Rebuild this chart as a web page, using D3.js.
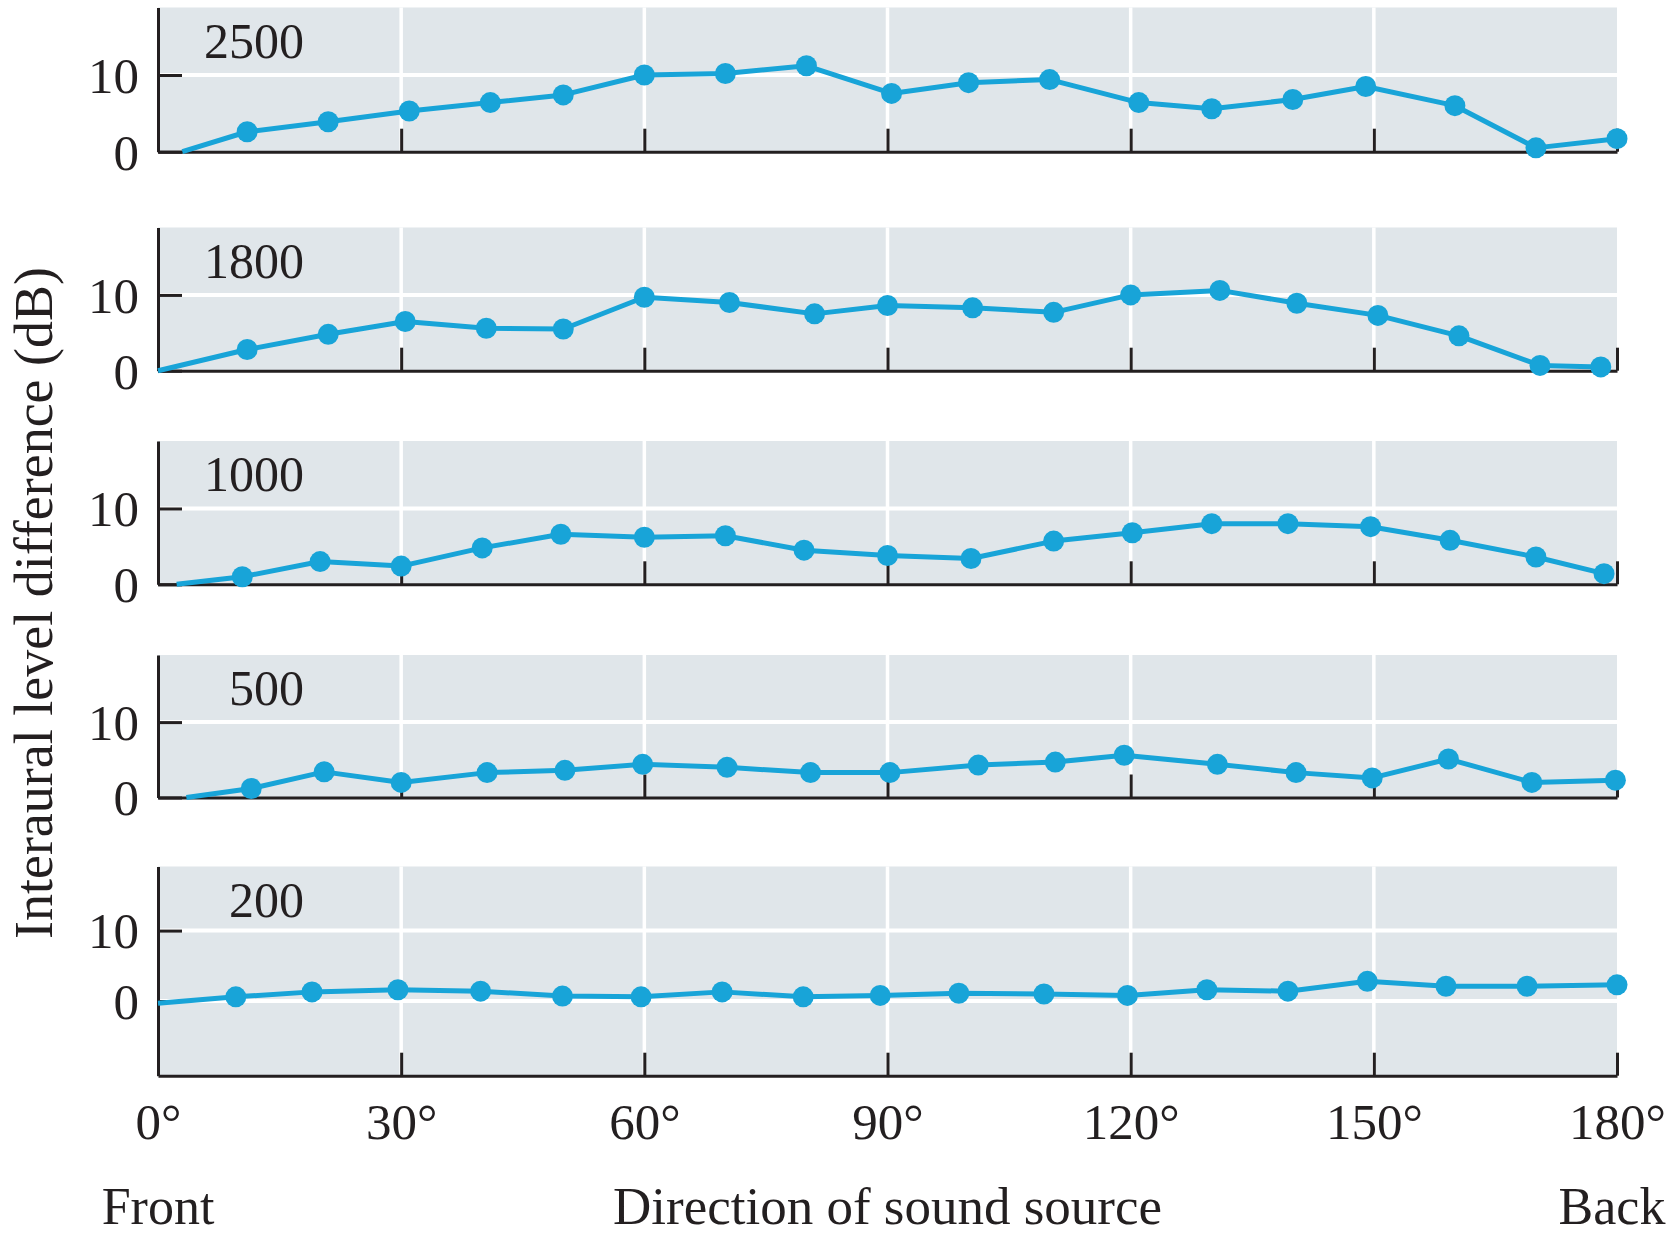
<!DOCTYPE html>
<html>
<head>
<meta charset="utf-8">
<script src="https://cdn.jsdelivr.net/npm/d3@7/dist/d3.min.js"></script>
<style>
  html, body { margin: 0; padding: 0; background: #ffffff; }
  svg { display: block; }
  text { font-family: "Liberation Serif", "Times New Roman", serif; fill: #231f20; }
</style>
</head>
<body>
<svg id="chart" width="1675" height="1235"></svg>
<script>
// Interaural level difference (dB) versus direction of the sound source,
// one panel per tone frequency (Hz). The first entry of each series is the
// origin of the curve and carries no marker.
const frequencies = [2500, 1800, 1000, 500, 200];

const angles2500 = [3, 11, 21, 31, 41, 50, 60, 70, 80, 90.5, 100, 110, 121, 130, 140, 149, 160, 170, 180];
const ild2500    = [0, 2.6, 3.9, 5.3, 6.4, 7.4, 10.0, 10.2, 11.2, 7.6, 9.0, 9.4, 6.4, 5.6, 6.8, 8.5, 6.0, 0.5, 1.7];

const angles1800 = [0, 11, 21, 30.5, 40.5, 50, 60, 70.5, 81, 90, 100.5, 110.5, 120, 131, 140.5, 150.5, 160.5, 170.5, 178];
const ild1800    = [0, 2.8, 4.8, 6.5, 5.6, 5.5, 9.7, 9.0, 7.5, 8.6, 8.3, 7.7, 10.0, 10.6, 8.9, 7.3, 4.6, 0.7, 0.5];

const angles1000 = [2.3, 10.4, 20, 30, 40, 49.7, 60, 70, 79.7, 90, 100.3, 110.5, 120.2, 130, 139.4, 149.6, 159.4, 170, 178.4];
const ild1000    = [0, 1.0, 3.0, 2.4, 4.8, 6.6, 6.2, 6.4, 4.5, 3.8, 3.4, 5.7, 6.8, 8.0, 8.0, 7.6, 5.8, 3.6, 1.4];

const angles500  = [3.5, 11.5, 20.5, 30, 40.6, 50.2, 59.8, 70.2, 80.5, 90.3, 101.2, 110.7, 119.2, 130.7, 140.4, 149.8, 159.2, 169.5, 179.8];
const ild500     = [0, 1.2, 3.4, 2.0, 3.3, 3.6, 4.4, 4.0, 3.3, 3.3, 4.3, 4.7, 5.6, 4.4, 3.3, 2.6, 5.1, 2.0, 2.3];

const angles200  = [0, 9.6, 19, 29.6, 39.8, 49.9, 59.6, 69.6, 79.6, 89.1, 98.8, 109.3, 119.6, 129.4, 139.4, 149.2, 158.9, 168.9, 180];
const ild200     = [-0.3, 0.6, 1.3, 1.6, 1.4, 0.7, 0.6, 1.3, 0.6, 0.8, 1.1, 1.0, 0.8, 1.6, 1.4, 2.8, 2.1, 2.1, 2.3];

const seriesAngles = [angles2500, angles1800, angles1000, angles500, angles200];
const seriesLevels = [ild2500, ild1800, ild1000, ild500, ild200];

// Axis extents (dB) of each panel
const yDomains = [[0, 18.8], [0, 18.9], [0, 18.9], [0, 18.9], [-10.6, 19.1]];
const yTickValues = [[0, 10], [0, 10], [0, 10], [0, 10], [0, 10]];
const yGridValues = [[10], [10], [10], [10], [0, 10]];

const xTickValues = [30, 60, 90, 120, 150, 180];
const xGridValues = [30, 60, 90, 120, 150];
const xLabelValues = [0, 30, 60, 90, 120, 150, 180];

// Layout
const W = 1675, H = 1235;
const left = 158, right = 1617;
const panelTop = [7.5, 227.5, 441, 655, 866.5];
const panelBottom = [151.7, 370.7, 584.3, 797.5, 1075.7];

const lineColor = "#18a4d8";
const panelFill = "#e0e6ea";
const inkColor = "#231f20";
const serif = "'Liberation Serif', 'Times New Roman', serif";

const svg = d3.select("#chart");

const x = d3.scaleLinear().domain([0, 180]).range([left, right]);

frequencies.forEach((freq, i) => {
  const top = panelTop[i], bottom = panelBottom[i];
  const y = d3.scaleLinear().domain(yDomains[i]).range([bottom, top]);
  const g = svg.append("g").attr("class", "panel");

  // shaded plotting area
  g.append("rect")
    .attr("x", x(0)).attr("y", top)
    .attr("width", x(180) - x(0)).attr("height", bottom - top)
    .attr("fill", panelFill);

  // white grid
  g.selectAll("line.hgrid").data(yGridValues[i]).join("line")
    .attr("class", "hgrid")
    .attr("x1", x(0)).attr("x2", x(180))
    .attr("y1", d => y(d)).attr("y2", d => y(d))
    .attr("stroke", "#ffffff").attr("stroke-width", 4);
  g.selectAll("line.vgrid").data(xGridValues).join("line")
    .attr("class", "vgrid")
    .attr("x1", d => x(d)).attr("x2", d => x(d))
    .attr("y1", top).attr("y2", bottom)
    .attr("stroke", "#ffffff").attr("stroke-width", 3.5);

  // left axis with inward tick and numeric labels
  const yAxis = d3.axisLeft(y)
    .tickValues(yTickValues[i])
    .tickSizeInner(-24).tickSizeOuter(0)
    .tickPadding(19)
    .tickFormat(d3.format("d"));
  const ya = g.append("g").attr("transform", `translate(${x(0)},0)`).call(yAxis);
  ya.select(".domain").attr("stroke", inkColor).attr("stroke-width", 3);
  ya.selectAll(".tick line").attr("stroke", inkColor).attr("stroke-width", 3);
  ya.selectAll(".tick text")
    .attr("font-size", 51).attr("dy", "0.34em")
    .style("font-family", serif)
    .attr("fill", inkColor);

  // bottom axis with upward ticks
  const xAxis = d3.axisBottom(x)
    .tickValues(xTickValues)
    .tickSizeInner(-23).tickSizeOuter(0)
    .tickFormat("");
  const xa = g.append("g").attr("transform", `translate(0,${bottom})`).call(xAxis);
  xa.select(".domain").attr("stroke", inkColor).attr("stroke-width", 3);
  xa.selectAll(".tick line").attr("stroke", inkColor).attr("stroke-width", 3);

  // frequency label
  g.append("text")
    .attr("x", 304).attr("y", top + 50)
    .attr("text-anchor", "end")
    .attr("font-size", 50)
    .style("font-family", serif)
    .text(freq);

  // data curve and markers
  const pts = seriesAngles[i].map((a, k) => ({ a, v: seriesLevels[i][k], k }));
  const line = d3.line().x(d => x(d.a)).y(d => y(d.v));
  g.append("path")
    .datum(pts)
    .attr("d", line)
    .attr("fill", "none")
    .attr("stroke", lineColor)
    .attr("stroke-width", 5)
    .attr("stroke-linejoin", "round")
    .attr("stroke-linecap", "butt");
  g.selectAll("circle.pt").data(pts.filter(d => d.k > 0)).join("circle")
    .attr("class", "pt")
    .attr("cx", d => x(d.a)).attr("cy", d => y(d.v))
    .attr("r", 10.5)
    .attr("fill", lineColor);
});

// degree labels under the bottom panel
const labelAxis = d3.axisBottom(x)
  .tickValues(xLabelValues)
  .tickSize(0)
  .tickPadding(0)
  .tickFormat(d => d + "°");
const la = svg.append("g").attr("transform", `translate(0,${panelBottom[4]})`).call(labelAxis);
la.select(".domain").remove();
la.selectAll(".tick text")
  .attr("y", 63).attr("dy", 0)
  .attr("font-size", 51)
  .style("font-family", serif)
  .attr("fill", inkColor);

// axis titles
svg.append("text")
  .attr("x", x(0)).attr("y", 1224)
  .attr("text-anchor", "middle").attr("font-size", 52)
  .style("font-family", serif)
  .text("Front");
svg.append("text")
  .attr("x", x(90)).attr("y", 1224)
  .attr("text-anchor", "middle").attr("font-size", 53)
  .style("font-family", serif)
  .text("Direction of sound source");
svg.append("text")
  .attr("x", x(180) - 5).attr("y", 1224)
  .attr("text-anchor", "middle").attr("font-size", 52)
  .style("font-family", serif)
  .text("Back");
svg.append("text")
  .attr("transform", "translate(52,603) rotate(-90)")
  .attr("text-anchor", "middle").attr("font-size", 54)
  .style("font-family", serif)
  .text("Interaural level difference (dB)");
</script>
</body>
</html>
